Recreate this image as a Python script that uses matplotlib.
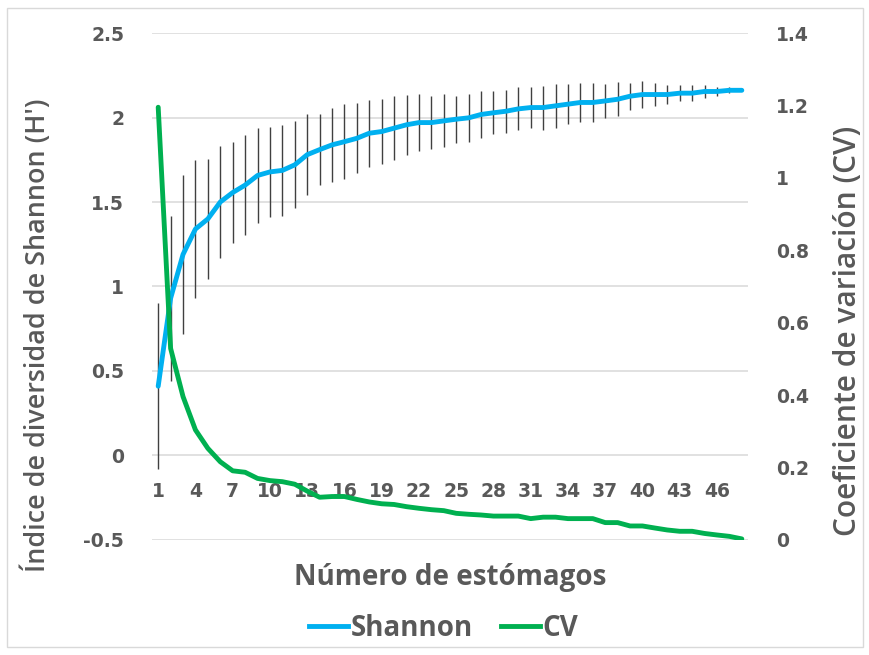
import numpy as np
import matplotlib
matplotlib.use("Agg")
import matplotlib.pyplot as plt
from matplotlib.patches import Rectangle
from matplotlib.lines import Line2D

# number of stomachs sampled
estomagos = list(range(1, 49))

# mean Shannon diversity index (H') and its standard deviation
shannon = [0.41, 0.93, 1.19, 1.34, 1.40, 1.50, 1.556, 1.60, 1.657, 1.678,
           1.687, 1.72, 1.78, 1.81, 1.838, 1.857, 1.877, 1.907, 1.917, 1.937,
           1.957, 1.97, 1.97, 1.98, 1.99, 1.998, 2.018, 2.028, 2.037, 2.051,
           2.059, 2.059, 2.069, 2.079, 2.089, 2.089, 2.098, 2.108, 2.126, 2.136,
           2.136, 2.136, 2.144, 2.144, 2.154, 2.154, 2.161, 2.161]
shannon_sd = [0.49, 0.49, 0.47, 0.41, 0.357, 0.33, 0.30, 0.298, 0.28, 0.267,
              0.268, 0.258, 0.24, 0.21, 0.22, 0.22, 0.208, 0.197, 0.19, 0.19,
              0.178, 0.168, 0.157, 0.157, 0.14, 0.14, 0.139, 0.128, 0.128, 0.127,
              0.119, 0.13, 0.13, 0.12, 0.118, 0.118, 0.10, 0.10, 0.081, 0.079,
              0.069, 0.057, 0.049, 0.049, 0.039, 0.027, 0.017, 0.0]

# coefficient of variation
cv = [1.195, 0.529, 0.396, 0.304, 0.253, 0.216, 0.191, 0.187, 0.170, 0.164,
      0.161, 0.154, 0.135, 0.118, 0.120, 0.120, 0.112, 0.105, 0.100, 0.098,
      0.092, 0.0875, 0.0837, 0.081, 0.0736, 0.071, 0.069, 0.066, 0.066, 0.066,
      0.059, 0.063, 0.063, 0.059, 0.059, 0.059, 0.048, 0.048, 0.0387, 0.0387,
      0.033, 0.0276, 0.024, 0.024, 0.018, 0.0138, 0.010, 0.003]

left_ticks = [-0.5, 0, 0.5, 1, 1.5, 2, 2.5]
right_ticks = [0, 0.2, 0.4, 0.6, 0.8, 1, 1.2, 1.4]
x_ticks = list(range(1, 49, 3))

GRAY = "#595959"
BLUE = "#00b0f0"
GREEN = "#00b050"


def fmt(v):
    return f"{v:g}"


fig = plt.figure(figsize=(8.7, 6.55), dpi=100)
ax = fig.add_axes([0.1747, 0.1756, 0.6851, 0.774])
ax2 = ax.twinx()

# shannon with error bars
ax.errorbar(estomagos, shannon, yerr=shannon_sd, fmt="none", ecolor="#404040",
            elinewidth=1.0, capsize=0, zorder=2)
ax.plot(estomagos, shannon, color=BLUE, lw=3.5, solid_capstyle="round", zorder=3)

ax2.plot(estomagos, cv, color=GREEN, lw=3.5, solid_capstyle="round")

ax.set_xlim(0.5, 48.5)
ax.set_ylim(-0.5, 2.5)
ax2.set_ylim(0, 1.4)

ax.set_yticks(left_ticks)
ax.set_yticklabels([fmt(t) for t in left_ticks])
ax2.set_yticks(right_ticks)
ax2.set_yticklabels([fmt(t) for t in right_ticks])

ax.set_xticks(x_ticks)
ax.set_xticklabels([str(t) for t in x_ticks])
ax.spines["bottom"].set_position(("data", 0))

for a in (ax, ax2):
    for s in a.spines.values():
        s.set_visible(False)
    a.tick_params(length=0, labelcolor=GRAY)
    for lab in a.get_yticklabels() + a.get_xticklabels():
        lab.set_fontweight("bold")
        lab.set_fontsize(13.5)
        lab.set_family("DejaVu Sans")

ax.tick_params(axis="x", pad=19)
ax.tick_params(axis="y", pad=20)
ax2.tick_params(axis="y", pad=20)

ax.grid(axis="y", color="#d9d9d9", lw=1.1)
ax.set_axisbelow(True)

# axis titles
fig.text(37 / 870, 1 - 335 / 655, "Índice de diversidad de Shannon (H')",
         family="Open Sans", fontweight="semibold", fontsize=19.4, color=GRAY,
         rotation=90, ha="center", va="center")
fig.text(848 / 870, 1 - 331 / 655, "Coeficiente de variación (CV)",
         family="Open Sans", fontweight="semibold", fontsize=21.5, color=GRAY,
         rotation=90, ha="center", va="center")
fig.text(0.517, 0.118, "Número de estómagos", family="Open Sans",
         fontweight="bold", fontsize=20, color=GRAY, ha="center", va="center")

handles = [Line2D([], [], color=BLUE, lw=3.5), Line2D([], [], color=GREEN, lw=3.5)]
leg = fig.legend(handles, ["Shannon", "CV"], loc="center", bbox_to_anchor=(0.51, 0.041),
                 ncol=2, frameon=False, handlelength=1.4, handletextpad=0.1,
                 columnspacing=1.0, prop={"family": "Open Sans", "weight": "bold", "size": 20})
for t in leg.get_texts():
    t.set_color(GRAY)

# chart border
fig.patches.append(Rectangle((0.008, 0.012), 0.984, 0.976, transform=fig.transFigure,
                             fill=False, edgecolor="#d9d9d9", lw=1.0))

fig.savefig("out.png", dpi=100)
